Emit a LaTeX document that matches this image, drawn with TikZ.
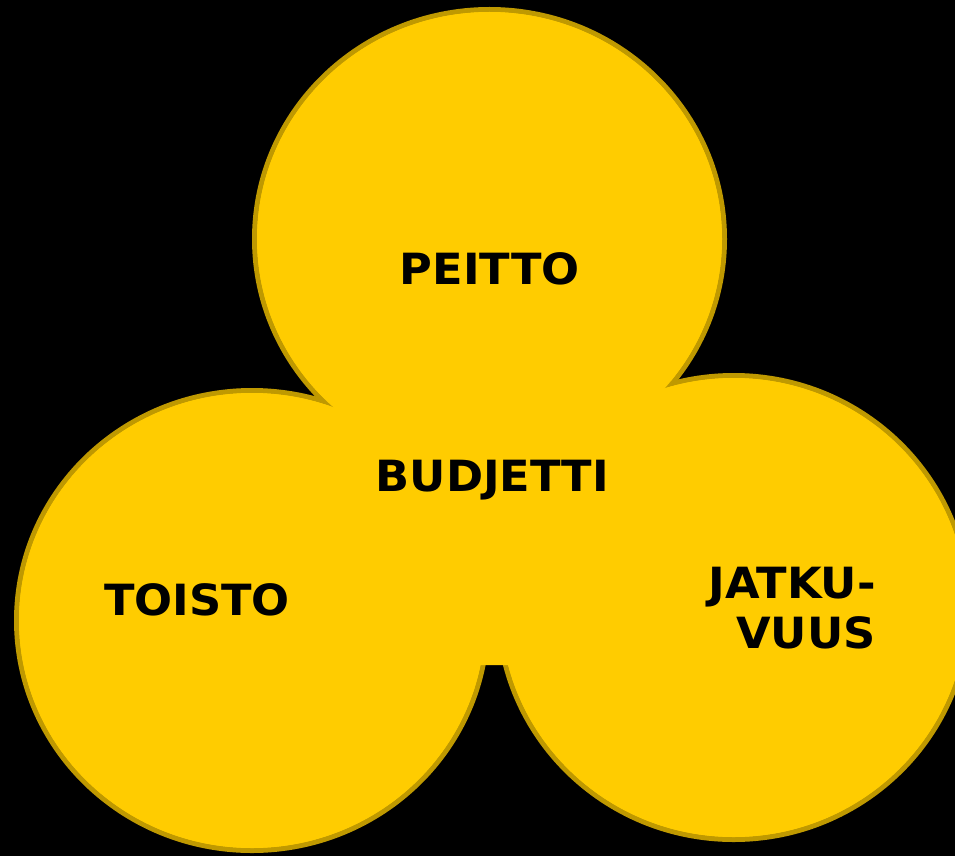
\documentclass[tikz,border=0pt]{standalone}
\usepackage{fontspec}
\newfontfamily\wordfont{DejaVu Sans Bold}[FakeStretch=1.04]
\definecolor{venn}{HTML}{FFCC00}
\definecolor{rim}{HTML}{BF9900}
\begin{document}
\begin{tikzpicture}[x=1pt,y=-1pt,
  disc/.style={fill=venn, draw=rim, line width=5pt},
  cover/.style={fill=venn, draw=none},
  word/.style={font=\fontsize{43}{50}\wordfont, text=black, inner sep=0pt}]
\useasboundingbox (0,0) rectangle (955,856);
\fill[black] (0,0) rectangle (955,856);
\coordinate (ct) at (489.5,239);
\coordinate (cl) at (252,620.5);
\coordinate (cr) at (733.7,607.5);
% outlined discs
\draw[disc] (ct) ellipse [x radius=235pt, y radius=229.5pt];
\draw[disc] (cl) ellipse [x radius=235.5pt, y radius=230pt];
\draw[disc] (cr) ellipse [x radius=235.5pt, y radius=232pt];
% hide inner outlines
\fill[cover] (ct) ellipse [x radius=232.5pt, y radius=227pt];
\fill[cover] (cl) ellipse [x radius=233pt, y radius=227.5pt];
\fill[cover] (cr) ellipse [x radius=233pt, y radius=229.5pt];
\fill[cover] (cl) -- (252,665) -- (733.7,665) -- (cr) -- (ct) -- cycle;
% texts
\node[word, anchor=base] (peitto) at (490,284) {PEITTO};
\node[word, anchor=base] (budjetti) at (492.5,491) {BUDJETTI};
\node[word, anchor=base] (toisto) at (197,615) {TOISTO};
\node[word, anchor=north east, align=right] (jatkuvuus) at (876,567) {JATKU-\\VUUS};
\end{tikzpicture}
\end{document}
